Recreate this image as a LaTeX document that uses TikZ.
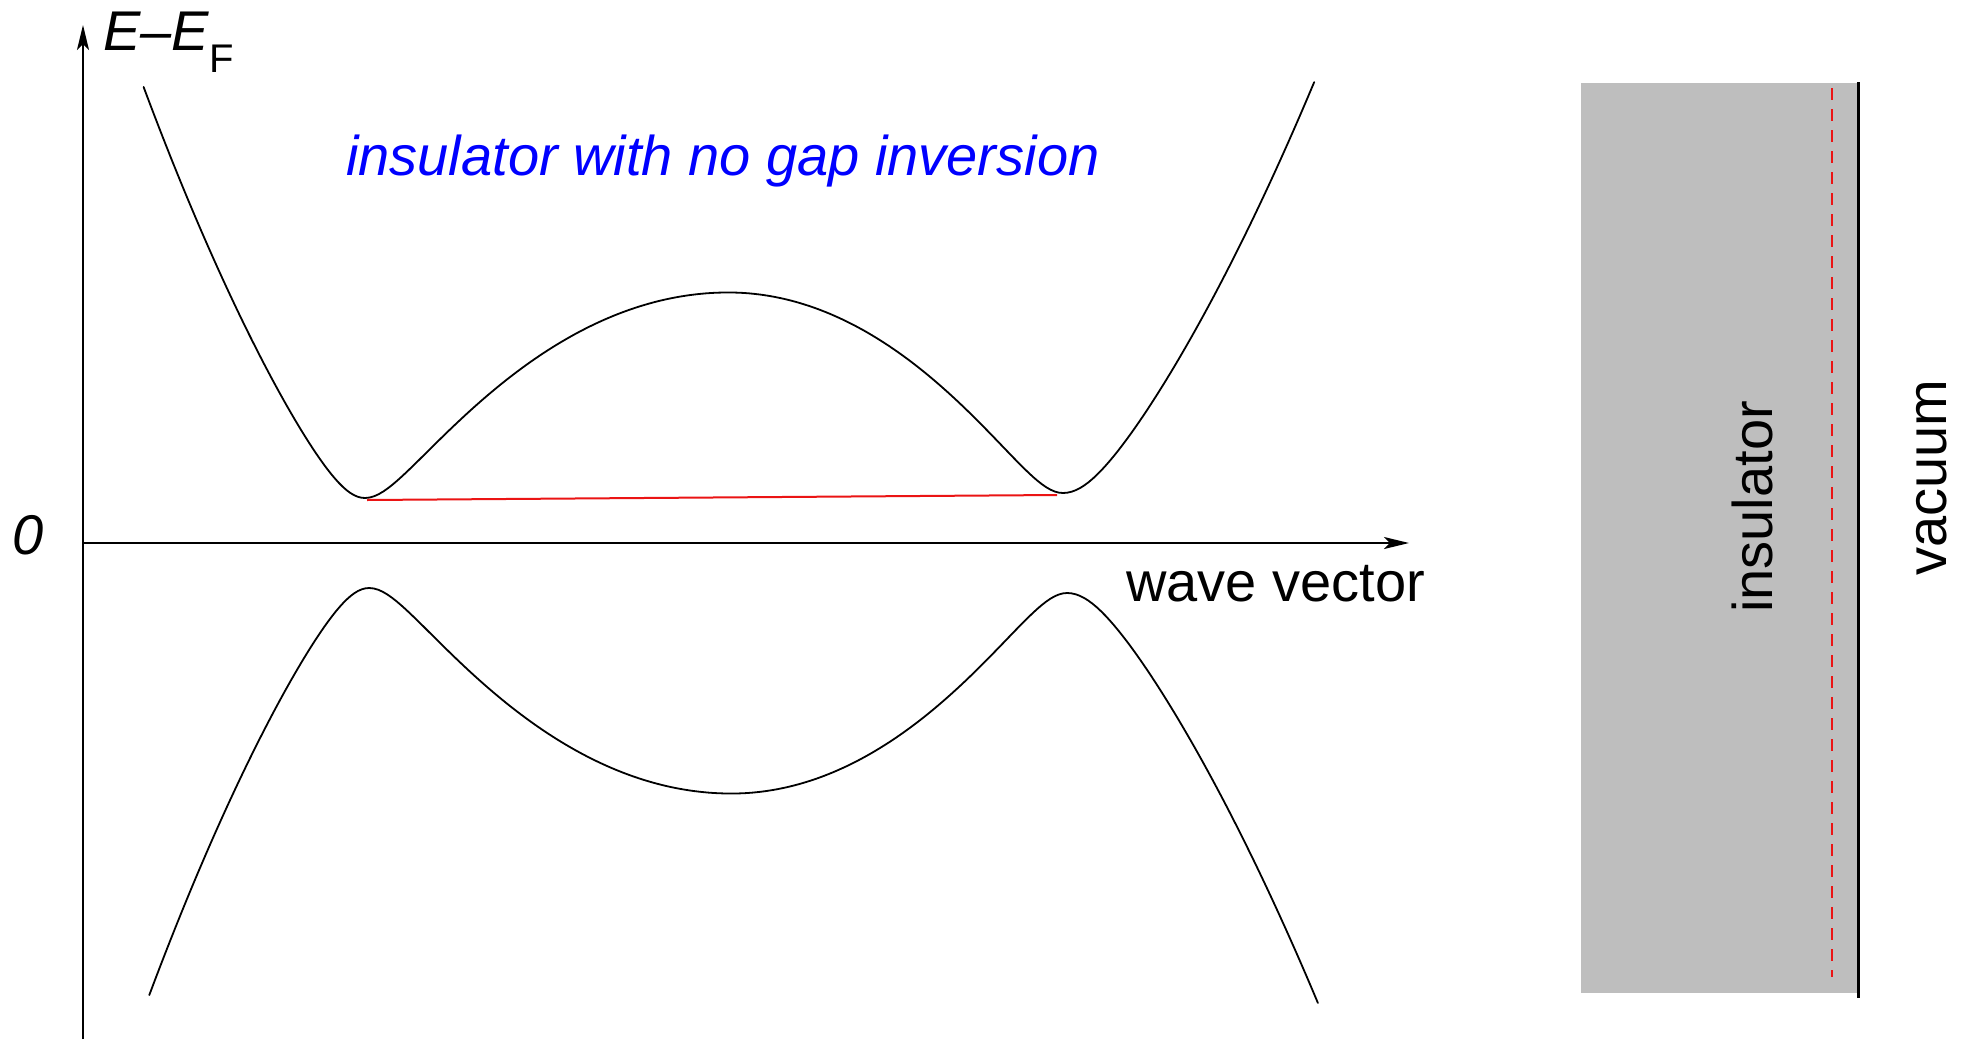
\documentclass[tikz,border=0pt]{standalone}
\usepackage{fontspec}
\setmainfont{Liberation Sans}
\usetikzlibrary{arrows.meta}
\definecolor{slabgray}{RGB}{190,190,190}
\definecolor{titleblue}{RGB}{0,0,255}
\definecolor{edgered}{RGB}{235,20,20}
\begin{document}
\begin{tikzpicture}[x=1pt,y=-1pt,
  declare function={
    bandw(\s)=\s*\s-12.18;
    bandh(\s)=20.98*bandw(\s)+0.0643*bandw(\s)*bandw(\s);
    gapg(\s)=47.5+2.5*\s/3.49;
    bandE(\s)=10*veclen(gapg(\s)/10,bandh(\s)/10);
  },
  band/.style={line width=1.8pt, line join=round, line cap=round},
  axisline/.style={line width=2.2pt, -{Stealth[length=25pt,width=12pt,inset=6pt]}},
  lab/.style={font=\fontsize{56}{60}\selectfont, inner sep=0pt}]
\useasboundingbox (0,0) rectangle (1963,1042);
\fill[white] (0,0) rectangle (1963,1042);

% axes
\coordinate (origin) at (83,543);
\coordinate (ybottom) at (83,1039);
\coordinate (ytip) at (83,25);
\coordinate (xtip) at (1409,543);
\draw[axisline] (ybottom) -- (ytip);
\draw[axisline] (origin) -- (xtip);

% labels
\node[lab, anchor=base west] (ylabel) at (103,50)
  {\itshape E–E\raisebox{-22pt}{\upshape\fontsize{40}{40}\selectfont F}};
\node[lab, anchor=base west] (zero) at (12,554) {\itshape 0};
\node[lab, anchor=base west] (xlabel) at (1126,601) {wave vector};
\node[lab, anchor=base west, text=titleblue] (title) at (346,175)
  {\itshape insulator with no gap inversion};

% conduction band (minima at x=365.1 and 1063.1, maximum at x=728)
\draw[band]
  plot[domain=-5.705:-3.49, samples=60, variable=\s] ({714.1+100*\s},{543-bandE(\s)})
  -- plot[domain=-3.49:0, samples=80, variable=\s] ({728+103.98*\s},{543-bandE(\s)})
  -- plot[domain=0:3.49, samples=80, variable=\s] ({728+96.02*\s},{543-bandE(\s)})
  -- plot[domain=3.49:5.72, samples=60, variable=\s] ({1063.1+112.6*(\s-3.49)},{543-bandE(\s)});

% valence band (maxima at x=369.3 and 1067.2, minimum at x=731)
\draw[band]
  plot[domain=-5.69:-3.49, samples=60, variable=\s] ({718.3+100*\s},{543+bandE(\s)})
  -- plot[domain=-3.49:0, samples=80, variable=\s] ({731+103.64*\s},{543+bandE(\s)})
  -- plot[domain=0:3.49, samples=80, variable=\s] ({731+96.33*\s},{543+bandE(\s)})
  -- plot[domain=3.49:5.717, samples=60, variable=\s] ({1067.2+112.6*(\s-3.49)},{543+bandE(\s)});

% gap line
\coordinate (gapL) at (367,500);
\coordinate (gapR) at (1057,495);
\draw[edgered, line width=2pt] (gapL) -- (gapR);

% slab
\fill[slabgray] (1581,83) rectangle (1858,993);
\coordinate (surfTop) at (1858,82);
\coordinate (surfBot) at (1858,998);
\draw[line width=3pt] (surfTop) -- (surfBot);
\coordinate (dashTop) at (1832,88);
\coordinate (dashBot) at (1832,977);
\draw[edgered, line width=2.5pt, dash pattern=on 12pt off 9pt] (dashTop) -- (dashBot);

\node[lab, anchor=base west, rotate=90] (ins) at (1772,613) {insulator};
\node[lab, anchor=base west, rotate=90] (vac) at (1946,576) {vacuum};
\end{tikzpicture}
\end{document}
